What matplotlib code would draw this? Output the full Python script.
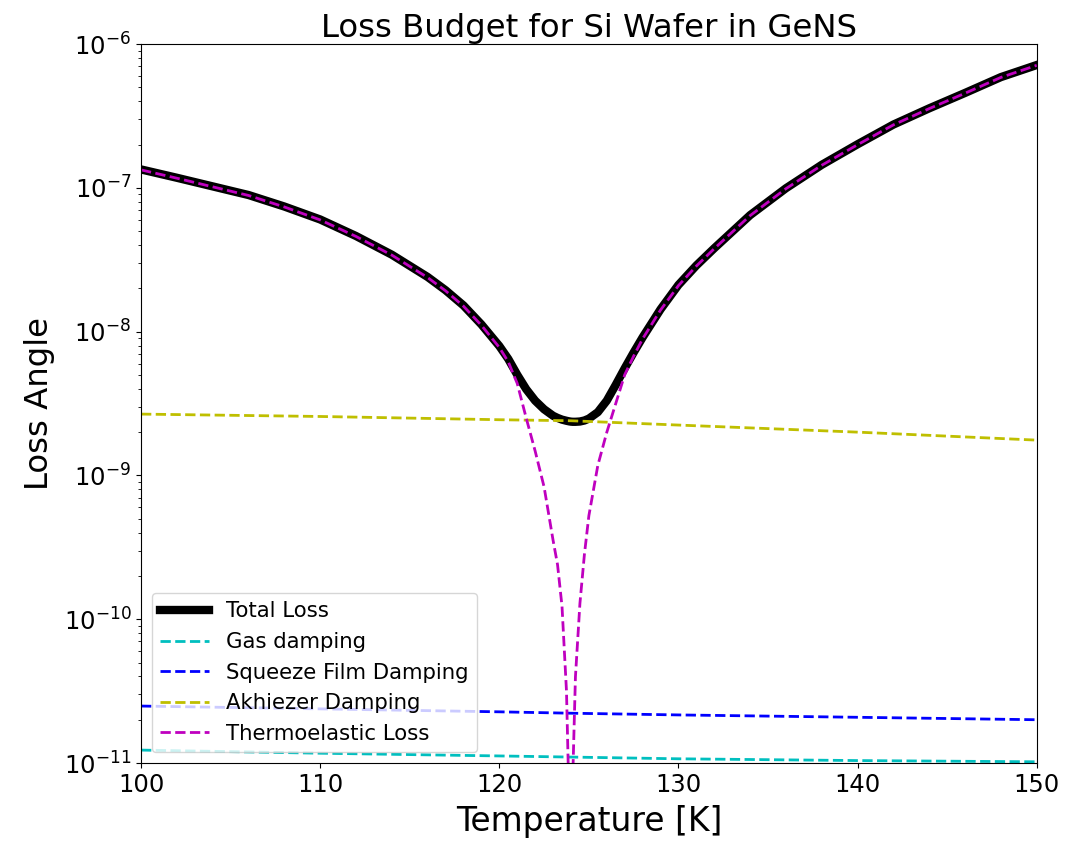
import numpy as np
import matplotlib
matplotlib.use("Agg")
import matplotlib.pyplot as plt

# temperature grid (K) for total / thermoelastic curves
temp = [100, 102, 104, 106, 108, 110, 112, 114, 116, 117, 118, 119, 120,
        120.5, 121, 121.5, 122, 122.5, 123, 123.25, 123.5, 123.75, 123.9,
        124.0, 124.1, 124.25, 124.5, 124.75, 125, 125.5, 126, 126.5, 127,
        127.5, 128, 129, 130, 131, 132, 134, 136, 138, 140, 142, 144, 146,
        148, 150]

# log10 of loss angle
log_total = [-6.872, -6.93, -6.99, -7.05, -7.13, -7.22, -7.335, -7.465, -7.62,
             -7.712, -7.818, -7.95, -8.10,
             -8.19, -8.30, -8.40, -8.48, -8.54, -8.585, -8.60, -8.612, -8.62, -8.624,
             -8.626, -8.627, -8.627, -8.625, -8.618, -8.605, -8.56, -8.48, -8.37, -8.255,
             -8.145, -8.04, -7.845, -7.675, -7.54, -7.42, -7.19, -7.003, -6.84, -6.697,
             -6.56, -6.447, -6.34, -6.23, -6.146]

log_thermo = [-6.875, -6.933, -6.993, -7.053, -7.133, -7.223, -7.338, -7.468, -7.624,
              -7.716, -7.823, -7.956, -8.11,
              -8.21, -8.36, -8.60, -8.83, -9.08, -9.45, -9.62, -9.91, -10.5, -11.3,
              -12.5, -11.1, -10.4, -9.89, -9.55, -9.28, -8.93, -8.70, -8.50, -8.30,
              -8.17, -8.05, -7.85, -7.68, -7.544, -7.423, -7.193, -7.006, -6.843, -6.70,
              -6.562, -6.449, -6.342, -6.232, -6.148]

# flat background losses
temp_bg = [100, 110, 120, 124, 130, 140, 150]
gas = [1.23e-11, 1.17e-11, 1.12e-11, 1.10e-11, 1.07e-11, 1.04e-11, 1.02e-11]
squeeze = [2.49e-11, 2.38e-11, 2.27e-11, 2.22e-11, 2.16e-11, 2.08e-11, 2.0e-11]
akhiezer = [2.67e-9, 2.57e-9, 2.44e-9, 2.40e-9, 2.24e-9, 2.0e-9, 1.76e-9]

total = 10 ** np.array(log_total)
thermo = 10 ** np.array(log_thermo)

fig = plt.figure(figsize=(10.89, 8.42), dpi=100)
ax = fig.add_axes([0.1295, 0.0938, 0.8225, 0.8539])

ax.plot(temp, total, color='k', lw=6, label='Total Loss')
ax.plot(temp_bg, gas, 'c--', lw=2, label='Gas damping')
ax.plot(temp_bg, squeeze, 'b--', lw=2, label='Squeeze Film Damping')
ax.plot(temp_bg, akhiezer, 'y--', lw=2, label='Akhiezer Damping')
ax.plot(temp, thermo, 'm--', lw=2, label='Thermoelastic Loss')

ax.set_yscale('log')
ax.set_xlim(100, 150)
ax.set_ylim(1e-11, 1e-6)
ax.set_xticks([100, 110, 120, 130, 140, 150])
ax.tick_params(labelsize=17.5)

ax.set_title('Loss Budget for Si Wafer in GeNS', fontsize=23.3, pad=4)
ax.set_xlabel('Temperature [K]', fontsize=23.7, labelpad=6)
ax.set_ylabel('Loss Angle', fontsize=23.3, labelpad=6)
ax.legend(loc='lower left', fontsize=15.3, handlelength=2.3)

fig.savefig('out.png', dpi=100)
